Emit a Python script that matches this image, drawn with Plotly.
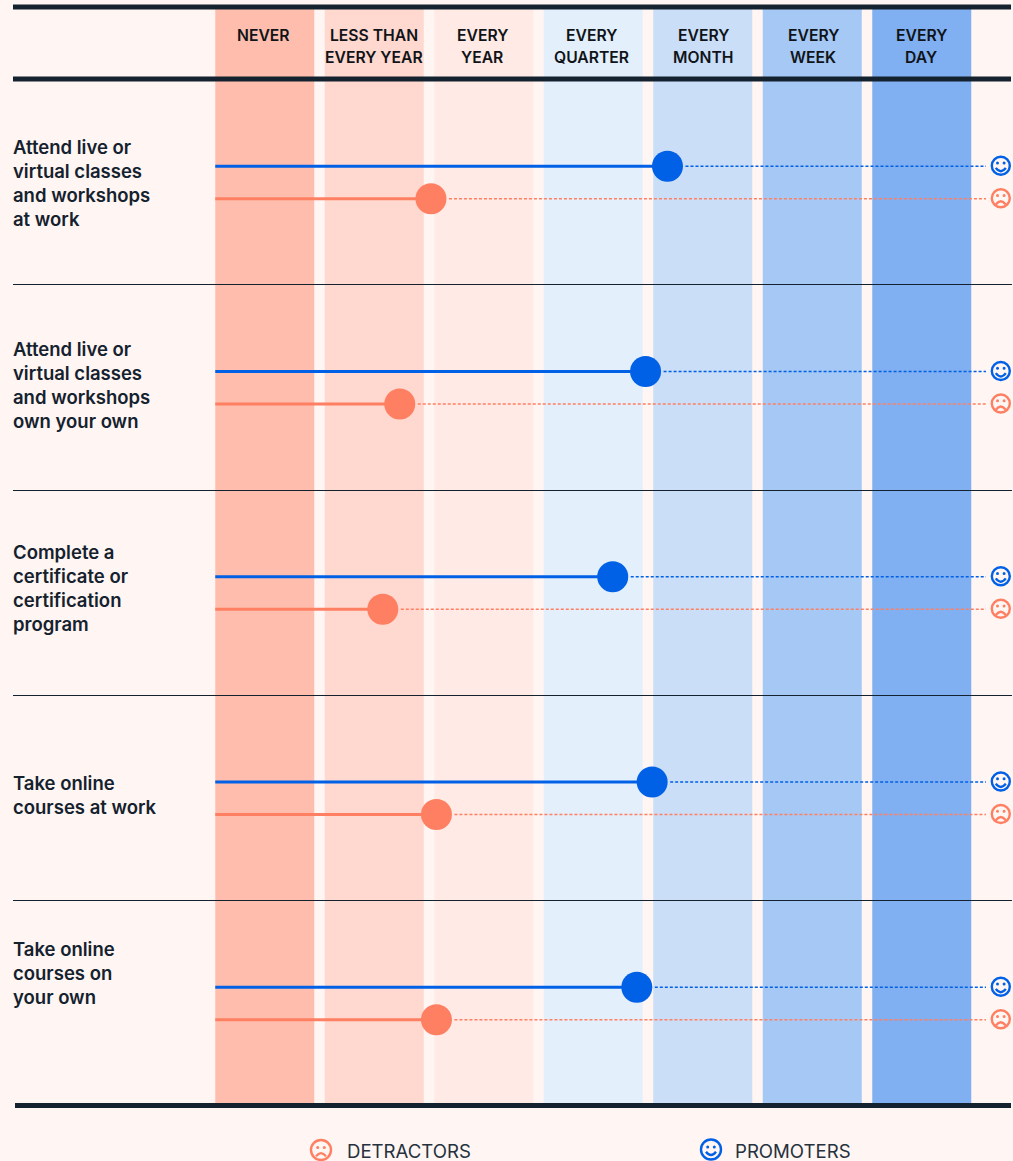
import plotly.graph_objects as go

# Frequency scale, left to right
frequency_labels = [
    ["NEVER"],
    ["LESS THAN", "EVERY YEAR"],
    ["EVERY", "YEAR"],
    ["EVERY", "QUARTER"],
    ["EVERY", "MONTH"],
    ["EVERY", "WEEK"],
    ["EVERY", "DAY"],
]
band_colors = ["#FFBEAD", "#FFD8CF", "#FFEAE5", "#E4EFFC", "#CADEF8", "#A5C8F5", "#80B0F1"]

activities = [
    ["Attend live or", "virtual classes", "and workshops", "at work"],
    ["Attend live or", "virtual classes", "and workshops", "own your own"],
    ["Complete a", "certificate or", "certification", "program"],
    ["Take online", "courses at work"],
    ["Take online", "courses on", "your own"],
]
promoters = [4.13, 3.93, 3.63, 3.99, 3.85]
detractors = [1.97, 1.685, 1.53, 2.02, 2.02]

W, H = 1013, 1161
BLUE, CORAL, INK = "#0060E6", "#FF7F62", "#14212E"
BG = "#FFF5F2"

# Pixel geometry of the two value scales
X0, X_STEP = 215.25, 109.5
Y0, Y_STEP = 166.3, 205.25
PAIR_GAP = 32.5 / Y_STEP
BAND_WIDTH = 99 / X_STEP
LINE_END = (986 - X0) / X_STEP
DOT_GAP = 18 / X_STEP
FONT = "Inter"


def px(x):
    return x / W


def py(y):
    return 1 - y / H


fig = go.Figure()

for row, (p, d) in enumerate(zip(promoters, detractors)):
    for value, y, color, name in (
        (p, row, BLUE, "Promoters"),
        (d, row + PAIR_GAP, CORAL, "Detractors"),
    ):
        fig.add_trace(go.Scatter(x=[0, value], y=[y, y], mode="lines", name=name,
                                 line=dict(color=color, width=3), hoverinfo="skip"))
        fig.add_trace(go.Scatter(x=[value + DOT_GAP, LINE_END], y=[y, y], mode="lines", name=name,
                                 line=dict(color=color, width=1.5, dash="3px,2px"), hoverinfo="skip"))
        fig.add_trace(go.Scatter(x=[value], y=[y], mode="markers", name=name,
                                 marker=dict(color=color, size=31, line=dict(width=0))))

shapes = []
annotations = []

# Frequency bands behind everything
for i, color in enumerate(band_colors):
    shapes.append(dict(type="rect", layer="below", xref="x", yref="paper",
                       x0=i, x1=i + BAND_WIDTH, y0=py(1103), y1=py(9),
                       fillcolor=color, line_width=0))


def rule(y, thickness, x0=13, x1=1011):
    shapes.append(dict(type="line", xref="paper", yref="paper",
                       x0=px(x0), x1=px(x1), y0=py(y), y1=py(y),
                       line=dict(color=INK, width=thickness)))


rule(7, 5)
rule(79, 5)
rule(1105.5, 5, x0=15)
for y in (284.5, 490.5, 695.5, 900.5):
    rule(y, 1, x1=1012)


def face(cx, cy, color, happy, r=9.0):
    """Outline smiley or frowny icon centred on a pixel position."""
    shapes.append(dict(type="circle", xref="paper", yref="paper",
                       x0=px(cx - r), x1=px(cx + r), y0=py(cy + r), y1=py(cy - r),
                       line=dict(color=color, width=2.4), fillcolor="rgba(0,0,0,0)"))
    for dx in (-3.3, 3.3):
        shapes.append(dict(type="circle", xref="paper", yref="paper",
                           x0=px(cx + dx - 1.5), x1=px(cx + dx + 1.5),
                           y0=py(cy - 2.6 + 1.5), y1=py(cy - 2.6 - 1.5),
                           fillcolor=color, line_width=0))
    if happy:
        start, ctrl = cy + 2.2, cy + 8.8
    else:
        start, ctrl = cy + 6.2, cy + 0.0
    path = f"M {px(cx - 5)} {py(start)} Q {px(cx)} {py(ctrl)} {px(cx + 5)} {py(start)}"
    shapes.append(dict(type="path", xref="paper", yref="paper", path=path,
                       line=dict(color=color, width=2.4), fillcolor="rgba(0,0,0,0)"))


def label(text, x, y, size, color, weight, anchor="left"):
    annotations.append(dict(text=text, xref="paper", yref="paper", x=px(x), y=py(y),
                            xanchor=anchor, yanchor="middle", showarrow=False,
                            borderpad=0, borderwidth=0,
                            font=dict(family=FONT, size=size, color=color, weight=weight)))


# Column headers
header_centres = [263, 373.5, 482, 591, 703, 813, 921]
for lines, cx in zip(frequency_labels, header_centres):
    for k, line in enumerate(lines):
        label(line, cx, 35.6 + 21.6 * k, 15.7, "#101418", 600, "center")

# Row captions
caption_tops = [147, 349, 552, 783, 949]
for lines, top in zip(activities, caption_tops):
    for k, line in enumerate(lines):
        label(line, 13, top + 24 * k, 18.5, INK, 600)

# Row-end icons
for row in range(len(activities)):
    face(1000.8, Y0 + Y_STEP * row - 0.6, BLUE, True)
    face(1000.8, Y0 + Y_STEP * (row + PAIR_GAP) - 0.6, CORAL, False)

# Key at the foot of the chart
face(321, 1150, CORAL, False, r=10)
label("DETRACTORS", 347, 1151, 18.6, "#25313E", 400)
face(711, 1149.5, BLUE, True, r=10)
label("PROMOTERS", 735, 1151, 18.6, "#25313E", 400)

fig.update_layout(
    width=W, height=H, margin=dict(l=0, r=0, t=0, b=0, pad=0),
    paper_bgcolor=BG, plot_bgcolor=BG, showlegend=False,
    shapes=shapes, annotations=annotations,
    # Rows count downward from the top
    xaxis=dict(visible=False, range=[-X0 / X_STEP, (W - X0) / X_STEP], fixedrange=True),
    yaxis=dict(visible=False, range=[(H - Y0) / Y_STEP, -Y0 / Y_STEP], fixedrange=True),
)

fig.write_html("out.html")
